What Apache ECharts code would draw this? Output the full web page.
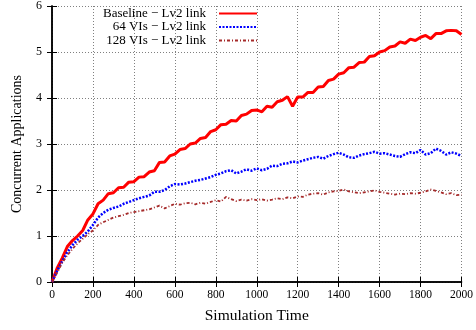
<!DOCTYPE html>
<html>
<head>
<meta charset="utf-8">
<script src="https://cdn.jsdelivr.net/npm/echarts@6/dist/echarts.min.js"></script>
<style>
  html, body { margin: 0; padding: 0; background: #fff; }
  #chart { width: 476px; height: 330px; }
</style>
</head>
<body>
<div id="chart"></div>
<script>
// sample times, every 25 time units
const times = [];
for (let t = 0; t <= 2000; t += 25) times.push(t);

const seriesNames = ["Baseline \u2212 Lv2 link", "64 VIs \u2212 Lv2 link", "128 VIs \u2212 Lv2 link"];

const baseline = [
  0, 0.3, 0.52, 0.77, 0.9, 1.0, 1.12, 1.35, 1.48, 1.7,
  1.78, 1.92, 1.94, 2.05, 2.06, 2.17, 2.18, 2.28, 2.29, 2.39,
  2.42, 2.6, 2.61, 2.74, 2.78, 2.88, 2.9, 3.0, 3.02, 3.12,
  3.14, 3.27, 3.31, 3.42, 3.43, 3.51, 3.5, 3.62, 3.65, 3.73,
  3.74, 3.7, 3.82, 3.8, 3.92, 3.95, 4.03, 3.82, 4.02, 4.02,
  4.12, 4.12, 4.24, 4.25, 4.38, 4.41, 4.52, 4.55, 4.66, 4.67,
  4.77, 4.78, 4.9, 4.92, 5.0, 5.03, 5.11, 5.13, 5.22, 5.19,
  5.28, 5.25, 5.32, 5.36, 5.29, 5.4, 5.4, 5.46, 5.47, 5.46,
  5.38
];

const vis64 = [
  0, 0.24, 0.45, 0.65, 0.8, 0.92, 1.0, 1.1, 1.24, 1.4,
  1.5, 1.57, 1.61, 1.64, 1.7, 1.74, 1.78, 1.82, 1.85, 1.88,
  1.96, 1.96, 2.0, 2.08, 2.13, 2.12, 2.14, 2.17, 2.2, 2.22,
  2.25, 2.28, 2.33, 2.36, 2.41, 2.43, 2.36, 2.4, 2.45, 2.42,
  2.47, 2.43, 2.46, 2.53, 2.52, 2.57, 2.58, 2.62, 2.6, 2.64,
  2.67, 2.7, 2.72, 2.68, 2.74, 2.78, 2.81, 2.77, 2.71, 2.7,
  2.75, 2.78, 2.8, 2.83, 2.79, 2.8, 2.77, 2.74, 2.72, 2.78,
  2.82, 2.8, 2.87, 2.77, 2.8, 2.9, 2.85, 2.77, 2.82, 2.79,
  2.74
];

const vis128 = [
  0, 0.2, 0.42, 0.58, 0.72, 0.84, 0.94, 1.04, 1.12, 1.24,
  1.3, 1.35, 1.4, 1.43, 1.46, 1.5, 1.52, 1.54, 1.56, 1.58,
  1.62, 1.66, 1.6, 1.65, 1.7, 1.68, 1.71, 1.72, 1.69, 1.72,
  1.7, 1.74, 1.78, 1.75, 1.85, 1.8, 1.76, 1.79, 1.77, 1.8,
  1.78, 1.8, 1.77, 1.79, 1.82, 1.8, 1.84, 1.82, 1.86, 1.85,
  1.9, 1.92, 1.93, 1.9, 1.95, 1.97, 1.98, 2.01, 1.97, 1.95,
  1.93, 1.95, 1.97, 1.99, 1.96, 1.94, 1.92, 1.9, 1.92, 1.91,
  1.93, 1.92, 1.94, 1.97, 2.01, 1.98, 1.95, 1.91, 1.93, 1.89,
  1.9
];

const xTicks = [0, 200, 400, 600, 800, 1000, 1200, 1400, 1600, 1800, 2000];
const yTicks = [0, 1, 2, 3, 4, 5, 6];

const pair = (vals) => times.map((t, i) => [t, vals[i]]);

const chart = echarts.init(document.getElementById("chart"));
const font = "Liberation Serif";

const gridLine = { show: true, lineStyle: { color: "#808080", width: 1, type: [1, 2] } };
const boxLine = { show: true, lineStyle: { color: "#000", width: 1.5 } };
const tick = { show: true, inside: true, length: 5, lineStyle: { color: "#000", width: 1 } };

const legendRow = (name, top) => ({
  data: [name],
  right: 218,
  top: top,
  padding: 0,
  itemWidth: 38,
  itemHeight: 14,
  itemGap: 0,
  align: "right",
  itemStyle: { color: "transparent", borderColor: "transparent", borderWidth: 0 },
  textStyle: { fontFamily: font, fontSize: 13, color: "#000", padding: [0, 8, 0, 0] }
});

const option = {
  animation: false,
  backgroundColor: "#fff",
  grid: { left: 52, right: 14, top: 4, bottom: 48 },
  legend: [
    legendRow(seriesNames[0], 7),
    legendRow(seriesNames[1], 20.5),
    legendRow(seriesNames[2], 34)
  ],
  xAxis: [
    {
      type: "value", min: 0, max: 2000, interval: 200,
      name: "Simulation Time", nameLocation: "middle", nameGap: 26,
      nameTextStyle: { fontFamily: font, fontSize: 15.5, color: "#000" },
      axisLine: boxLine, axisTick: tick, splitLine: gridLine,
      axisLabel: { fontFamily: font, fontSize: 11.5, color: "#000", margin: 7,
        formatter: (v) => xTicks.includes(v) ? String(v) : "" }
    },
    {
      type: "value", position: "top", min: 0, max: 2000, interval: 200,
      axisLine: boxLine, axisTick: tick, splitLine: { show: false },
      axisLabel: { show: false }
    }
  ],
  yAxis: [
    {
      type: "value", min: 0, max: 6, interval: 1,
      name: "Concurrent Applications", nameLocation: "middle", nameGap: 28,
      nameTextStyle: { fontFamily: font, fontSize: 14, color: "#000" },
      axisLine: boxLine, axisTick: tick, splitLine: gridLine,
      axisLabel: { fontFamily: font, fontSize: 12, color: "#000", margin: 10,
        formatter: (v) => yTicks.includes(v) ? String(v) : "" }
    },
    {
      type: "value", position: "right", min: 0, max: 6, interval: 1,
      axisLine: boxLine, axisTick: tick, splitLine: { show: false },
      axisLabel: { show: false }
    }
  ],
  series: [
    {
      name: seriesNames[0], type: "line", data: pair(baseline),
      symbol: "none", color: "#ff0000",
      lineStyle: { color: "#ff0000", width: 3 }
    },
    {
      name: seriesNames[1], type: "line", data: pair(vis64),
      symbol: "none", color: "#0000ff",
      lineStyle: { color: "#0000ff", width: 2.5, type: [2, 1.5] }
    },
    {
      name: seriesNames[2], type: "line", data: pair(vis128),
      symbol: "none", color: "#a52a2a",
      lineStyle: { color: "#a52a2a", width: 1.8, type: [3, 2, 1, 2] }
    }
  ]
};

chart.setOption(option);
</script>
</body>
</html>
